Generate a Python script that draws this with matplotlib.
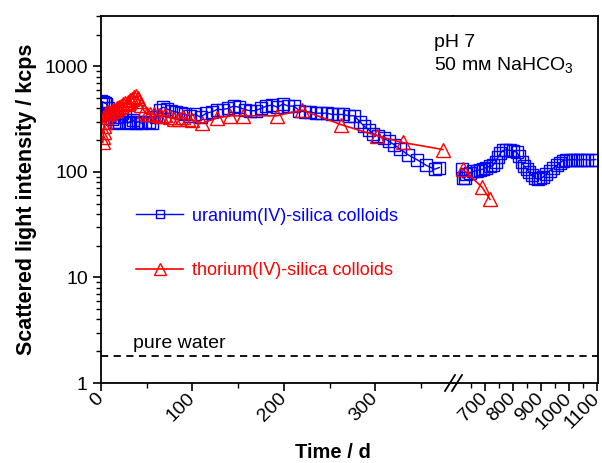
import matplotlib.pyplot as plt
from matplotlib.lines import Line2D
from matplotlib.ticker import LogLocator, NullFormatter, FixedLocator

plt.rcParams['font.family'] = ['Liberation Sans', 'DejaVu Sans']
plt.rcParams['mathtext.fontset'] = 'custom'
plt.rcParams['mathtext.rm'] = 'Liberation Sans'
plt.rcParams['mathtext.default'] = 'regular'

# uranium(IV)-silica colloids, first part (0 - 370 d)
u_day_a = [0, 2, 4, 6, 8, 10, 12, 14, 16, 18, 20, 23, 26, 29, 32, 35, 38, 41, 44, 48,
           52, 56, 60, 64, 68, 72, 77, 82, 87, 92, 97, 103, 109, 115, 121, 127, 133, 139,
           145, 151, 157, 163, 169, 175, 181, 187, 193, 199, 205, 211, 217, 223, 229, 235,
           241, 247, 253, 259, 265, 271, 277, 283, 288, 293, 298, 303, 309, 315, 321, 327,
           336, 346, 356, 365, 370]
u_val_a = [470, 460, 450, 440, 400, 350, 320, 300, 290, 330, 300, 360, 340, 290, 300, 310,
           290, 300, 290, 300, 300, 290, 330, 390, 410, 395, 380, 370, 360, 350, 340, 350,
           330, 360, 370, 390, 390, 400, 420, 410, 390, 380, 380, 400, 420, 430, 410, 440,
           420, 420, 380, 370, 370, 360, 360, 360, 350, 350, 350, 340, 340, 300, 270, 250,
           230, 220, 210, 195, 180, 165, 145, 130, 115, 106, 110]
# second part (after the break)
u_day_b = [618, 620, 628, 634, 646, 659, 671, 683, 693, 705, 718, 729, 738, 746, 755, 764,
           776, 789, 801, 814, 823, 832, 841, 850, 859, 868, 878, 889, 898, 907, 920, 932,
           945, 957, 968, 979, 991, 1004, 1016, 1029, 1040, 1050, 1066, 1082, 1096]
u_val_b = [106, 88, 88, 95, 98, 101, 103, 105, 106, 110, 113, 115, 125, 137, 150, 160,
           162, 160, 158, 153, 140, 123, 113, 106, 99, 93, 88, 85, 87, 89, 96, 103,
           109, 115, 122, 128, 130, 130, 131, 130, 130, 131, 130, 130, 131]

# thorium(IV)-silica colloids
t_day_a = [2, 2.5, 3, 3.5, 4, 5, 6, 8, 10, 12, 14, 16, 18, 20, 22, 24, 26, 28, 30, 32,
           34, 36, 38, 40, 42, 44, 47, 50, 54, 58, 62, 66, 70, 75, 80, 85, 90, 95, 100,
           111, 127, 141, 155, 192, 220, 263, 302, 330, 374]
t_val_a = [190, 215, 240, 270, 300, 330, 360, 370, 365, 380, 385, 390, 400, 410, 420, 440,
           450, 440, 460, 480, 490, 510, 520, 500, 470, 430, 380, 350, 355, 350, 345, 340,
           345, 330, 320, 315, 330, 315, 310, 290, 325, 340, 340, 340, 385, 280, 220, 190,
           163]
t_day_b = [621, 689, 718]
t_val_b = [106, 72, 55]

pure_water = 1.8

W, H = 602, 463
fig = plt.figure(figsize=(W / 100, H / 100), dpi=100)
ax1 = fig.add_axes([101 / W, 80 / H, 352 / W, 367 / H])
ax2 = fig.add_axes([453 / W, 80 / H, 145 / W, 367 / H], sharey=ax1)

u_style = dict(color='blue', marker='s', ms=8, mfc='none', mew=1.0, lw=1.0)
t_style = dict(color='red', marker='^', ms=10, mfc='none', mew=1.0, lw=1.2)

lu, = ax1.plot(u_day_a, u_val_a, **u_style)
lt, = ax1.plot(t_day_a, t_val_a, **t_style)
ax2.plot(u_day_b, u_val_b, **u_style)
ax2.plot(t_day_b, t_val_b, **t_style)

for ax in (ax1, ax2):
    ax.axhline(pure_water, color='black', lw=1.3, ls=(0, (4, 3)))
    for s in ax.spines.values():
        s.set_linewidth(1.3)
    ax.tick_params(which='major', direction='out', length=6, width=1.2, labelsize=14)
    ax.tick_params(which='minor', direction='out', length=3.5, width=1.0)

ax1.set_yscale('log')
ax1.set_ylim(1, 3000)
ax1.yaxis.set_major_locator(LogLocator(base=10))
ax1.yaxis.set_minor_locator(LogLocator(base=10, subs=range(2, 10)))
ax1.yaxis.set_minor_formatter(NullFormatter())
ax1.set_yticks([1, 10, 100, 1000])
ax1.set_yticklabels(['1', '10', '100', '1000'])

ax1.set_xlim(0, 385)
ax1.xaxis.set_major_locator(FixedLocator([0, 100, 200, 300]))
ax1.xaxis.set_minor_locator(FixedLocator([50, 150, 250, 350]))
ax1.spines['right'].set_visible(False)

ax2.set_xlim(586, 1104)
ax2.xaxis.set_major_locator(FixedLocator([700, 800, 900, 1000, 1100]))
ax2.xaxis.set_minor_locator(FixedLocator([650, 750, 850, 950, 1050]))
ax2.spines['left'].set_visible(False)
ax2.tick_params(axis='y', which='both', left=False, labelleft=False)

for ax in (ax1, ax2):
    for lab in ax.get_xticklabels():
        lab.set_rotation(45)
        lab.set_ha('right')
        lab.set_va('center')
        lab.set_rotation_mode('anchor')

ax1.set_ylabel('Scattered light intensity / kcps', fontsize=15.5, fontweight='bold', labelpad=5)
fig.text(333 / W, 1 - 452 / H, 'Time / d', fontsize=14.5, fontweight='bold', ha='center', va='center')

# scale break marks
for dx in (-4, 3):
    x0 = (454 + dx - 5) / W
    x1 = (454 + dx + 5) / W
    fig.add_artist(Line2D([x0, x1], [1 - 391 / H, 1 - 375 / H], color='black', lw=1.3))

ax1.legend([lu, lt], ['uranium(IV)-silica colloids', 'thorium(IV)-silica colloids'],
           loc='upper left', bbox_to_anchor=(0.1, 0.478), frameon=False, fontsize=13,
           labelspacing=2.1, handlelength=2.6, handletextpad=0.5, borderaxespad=0, borderpad=0,
           markerscale=0.8, labelcolor='linecolor')

fig.text(434 / W, 1 - 47 / H, 'pH 7', fontsize=14, va='baseline')
fig.text(434 / W, 1 - 70 / H, '50 m\u1d0d NaHCO$_3$', fontsize=14, va='baseline')
fig.text(133 / W, 1 - 348 / H, 'pure water', fontsize=14, va='baseline')

plt.savefig('out.png', dpi=100)
